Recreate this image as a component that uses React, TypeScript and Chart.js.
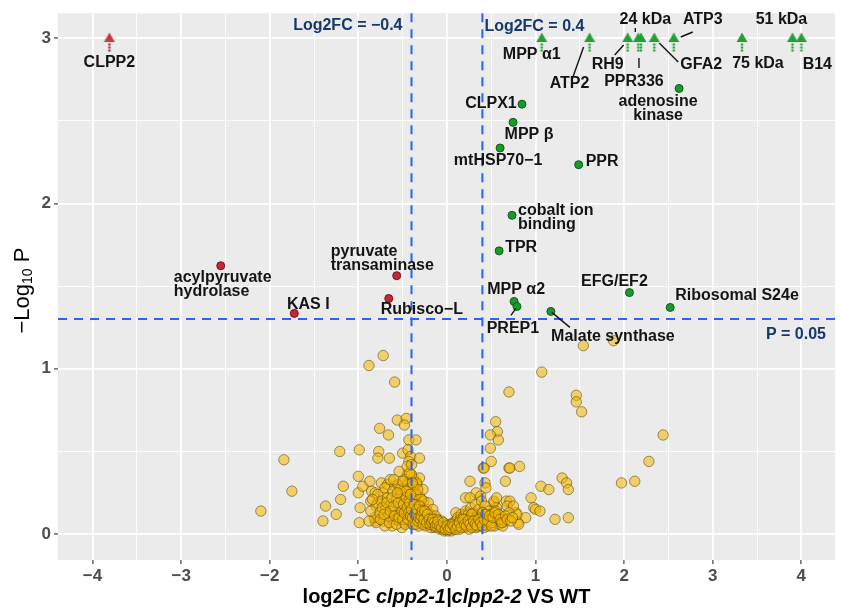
import React, { useEffect, useRef } from 'react';
import { Chart, registerables } from 'chart.js';

Chart.register(...registerables);

// ---------- axes ----------
const X_TICKS = [-4, -3.5, -3, -2.5, -2, -1.5, -1, -0.5, 0, 0.5, 1, 1.5, 2, 2.5, 3, 3.5, 4];
const Y_TICKS = [0, 0.5, 1, 1.5, 2, 2.5, 3];
const X_MIN = -4.39;
const X_MAX = 4.38;
const Y_MIN = -0.156;
const Y_MAX = 3.15;

// ---------- thresholds ----------
const FC_CUTOFFS = [-0.4, 0.4];
const P_CUTOFF = 0.05;

// ---------- significant, up (green circles) ----------
const UP_NAMES = [
  'adenosine\nkinase', 'CLPX1', 'MPP \u03b2', 'mtHSP70\u22121', 'PPR', 'cobalt ion\nbinding',
  'TPR', 'EFG/EF2', 'Ribosomal S24e', 'MPP \u03b12', 'PREP1', 'Malate synthase',
];
const UP_X = [2.62, 0.847, 0.746, 0.60, 1.487, 0.735, 0.589, 2.06, 2.52, 0.758, 0.79, 1.173];
const UP_Y = [2.695, 2.60, 2.49, 2.335, 2.234, 1.928, 1.713, 1.461, 1.371, 1.407, 1.377, 1.347];

// ---------- significant, up, capped at 3 (green arrows) ----------
const UP_CAP_NAMES = ['MPP \u03b11', 'ATP2', 'RH9', '24 kDa', 'PPR336', 'GFA2', 'ATP3', '75 kDa', '51 kDa', 'B14'];
const UP_CAP_X = [1.07, 1.61, 2.04, 2.16, 2.19, 2.34, 2.56, 3.33, 3.90, 4.00];
const UP_CAP_Y = [3, 3, 3, 3, 3, 3, 3, 3, 3, 3];

// ---------- significant, down (red circles) ----------
const DOWN_NAMES = ['acylpyruvate\nhydrolase', 'pyruvate\ntransaminase', 'Rubisco\u2212L', 'KAS I'];
const DOWN_X = [-2.553, -0.567, -0.657, -1.723];
const DOWN_Y = [1.623, 1.563, 1.425, 1.335];

// ---------- significant, down, capped (red arrow) ----------
const DOWN_CAP_NAMES = ['CLPP2'];
const DOWN_CAP_X = [-3.81];
const DOWN_CAP_Y = [3];

// ---------- not significant (yellow) [log2FC, -log10 P] ----------
const NS_POINTS: number[][] = [
  [-0.72, 1.08], [-0.88, 1.02], [-0.59, 0.92], [1.07, 0.98], [0.70, 0.86], [1.54, 1.14], [1.88, 1.17],
  [1.46, 0.84], [1.46, 0.80], [1.52, 0.74], [2.44, 0.60], [2.28, 0.44], [1.97, 0.31], [2.12, 0.32],
  [-0.56, 0.69], [-0.46, 0.70], [-0.48, 0.66], [-0.76, 0.64], [-0.66, 0.60], [-0.43, 0.57], [-0.35, 0.57],
  [0.55, 0.68], [0.57, 0.62], [0.49, 0.60], [0.58, 0.57], [0.49, 0.52], [0.50, 0.44],
  [-0.99, 0.51], [-1.21, 0.50], [-1.84, 0.45], [-0.77, 0.50], [-0.78, 0.46], [-0.65, 0.46], [-0.50, 0.49],
  [-0.44, 0.51], [-0.41, 0.47], [-0.31, 0.46], [-0.43, 0.44],
  [0.41, 0.40], [0.42, 0.40], [0.70, 0.40], [0.71, 0.40], [0.82, 0.41],
  [-1.75, 0.26], [-2.10, 0.14], [-1.40, 0.08], [-1.37, 0.17], [-1.25, 0.12], [-1.20, 0.21], [-1.17, 0.29],
  [-1.00, 0.35], [-1.00, 0.25], [-0.98, 0.16], [-0.99, 0.07], [-0.95, 0.29], [-0.87, 0.32], [-0.85, 0.26],
  [-0.74, 0.31], [-0.67, 0.30], [-0.59, 0.29], [-0.45, 0.36], [-0.38, 0.34], [-0.31, 0.34], [-0.45, 0.31],
  [-0.34, 0.30],
  [0.26, 0.32], [0.43, 0.31], [0.44, 0.28], [0.66, 0.32], [1.06, 0.29], [1.15, 0.27], [1.30, 0.34],
  [1.35, 0.31], [1.37, 0.27], [0.67, 0.20], [0.71, 0.20], [0.95, 0.22], [0.98, 0.16], [1.00, 0.15],
  [1.05, 0.14], [0.89, 0.10], [1.22, 0.09], [1.37, 0.10], [0.78, 0.13], [0.80, 0.07], [0.81, 0.06],
  [0.79, 0.12], [0.68, 0.17], [0.75, 0.17], [0.70, 0.13], [0.63, 0.07], [0.53, 0.19], [0.56, 0.16],
  [0.56, 0.11], [0.33, 0.25], [0.38, 0.23], [0.21, 0.22], [0.26, 0.22], [0.10, 0.13], [0.23, 0.13],
  [0.34, 0.11], [0.53, 0.20], [0.56, 0.22],
  [-0.81, 0.25], [-0.72, 0.25], [-0.86, 0.20], [-0.78, 0.19], [-0.81, 0.08], [-0.80, 0.07],
  // dense cloud
  [-0.82, 0.10], [-0.80, 0.17], [-0.78, 0.24], [-0.76, 0.13], [-0.74, 0.20], [-0.72, 0.08], [-0.70, 0.28],
  [-0.69, 0.15], [-0.67, 0.22], [-0.66, 0.11], [-0.64, 0.33], [-0.63, 0.18], [-0.61, 0.26], [-0.60, 0.09],
  [-0.58, 0.14], [-0.57, 0.21], [-0.55, 0.30], [-0.54, 0.38], [-0.53, 0.12], [-0.52, 0.17], [-0.50, 0.25],
  [-0.49, 0.07], [-0.48, 0.20], [-0.47, 0.33], [-0.46, 0.14], [-0.45, 0.41], [-0.44, 0.23], [-0.43, 0.10],
  [-0.42, 0.28], [-0.41, 0.17], [-0.40, 0.36], [-0.39, 0.06], [-0.38, 0.21], [-0.37, 0.13], [-0.36, 0.26],
  [-0.35, 0.09], [-0.34, 0.31], [-0.33, 0.18], [-0.32, 0.05], [-0.31, 0.23], [-0.30, 0.12], [-0.29, 0.16],
  [-0.28, 0.08], [-0.27, 0.27], [-0.26, 0.20], [-0.25, 0.11], [-0.24, 0.05], [-0.23, 0.15], [-0.22, 0.09],
  [-0.21, 0.19], [-0.20, 0.06], [-0.19, 0.12], [-0.18, 0.04], [-0.17, 0.10], [-0.16, 0.15], [-0.15, 0.07],
  [-0.14, 0.04], [-0.13, 0.11], [-0.12, 0.06], [-0.11, 0.09], [-0.10, 0.04], [-0.09, 0.07], [-0.08, 0.03],
  [-0.07, 0.05], [-0.06, 0.08], [-0.05, 0.03], [-0.04, 0.05], [-0.03, 0.02], [-0.02, 0.04], [-0.01, 0.06],
  [0.00, 0.03], [0.01, 0.02], [0.02, 0.05], [0.03, 0.03], [0.04, 0.06], [0.05, 0.02], [0.06, 0.04],
  [0.07, 0.07], [0.08, 0.03], [0.09, 0.05], [0.10, 0.08], [0.11, 0.04], [0.12, 0.10], [0.13, 0.06],
  [0.14, 0.03], [0.15, 0.09], [0.16, 0.12], [0.17, 0.05], [0.18, 0.07], [0.19, 0.11], [0.20, 0.04],
  [0.21, 0.14], [0.22, 0.08], [0.23, 0.06], [0.24, 0.12], [0.25, 0.03], [0.26, 0.10], [0.27, 0.16],
  [0.28, 0.07], [0.29, 0.05], [0.30, 0.13], [0.31, 0.09], [0.32, 0.18], [0.33, 0.04], [0.34, 0.11],
  [0.35, 0.07], [0.36, 0.15], [0.37, 0.05], [0.38, 0.10], [0.39, 0.20], [0.40, 0.08], [0.41, 0.13],
  [0.42, 0.04], [0.43, 0.17], [0.44, 0.07], [0.45, 0.11], [0.46, 0.05], [0.47, 0.14], [0.48, 0.09],
  [0.49, 0.06], [0.50, 0.12], [0.52, 0.08], [0.54, 0.05], [0.55, 0.14], [0.57, 0.09], [0.59, 0.06],
  [0.61, 0.11], [0.63, 0.05], [0.65, 0.08],
  [-0.88, 0.08], [-0.86, 0.14], [-0.84, 0.21], [-0.62, 0.05], [-0.51, 0.04], [-0.70, 0.05],
  [-0.47, 0.10], [-0.44, 0.15], [-0.41, 0.08], [-0.38, 0.14], [-0.35, 0.17], [-0.33, 0.11], [-0.30, 0.07],
  [-0.27, 0.13], [-0.24, 0.09], [-0.21, 0.07], [-0.18, 0.08], [-0.15, 0.05], [-0.56, 0.09], [-0.52, 0.24],
  [-0.48, 0.27], [-0.43, 0.20], [-0.39, 0.25], [-0.36, 0.20], [-0.32, 0.14], [-0.29, 0.21],
  [0.15, 0.05], [0.20, 0.09], [0.25, 0.07], [0.30, 0.05], [0.35, 0.10], [0.40, 0.13], [0.45, 0.09],
  [0.50, 0.07], [0.28, 0.12], [0.33, 0.08],
  [-0.75, 0.09], [-0.73, 0.16], [-0.71, 0.12], [-0.68, 0.19], [-0.65, 0.07], [-0.64, 0.14], [-0.62, 0.22],
  [-0.60, 0.17], [-0.59, 0.11], [-0.57, 0.06], [-0.55, 0.19], [-0.54, 0.10], [-0.53, 0.27], [-0.51, 0.14],
  [-0.50, 0.09], [-0.49, 0.18], [-0.48, 0.13], [-0.47, 0.06], [-0.46, 0.22], [-0.45, 0.16], [-0.44, 0.09],
  [-0.43, 0.13], [-0.42, 0.19], [-0.41, 0.11], [-0.40, 0.15], [-0.39, 0.10], [-0.38, 0.06], [-0.37, 0.18],
  [-0.36, 0.12], [-0.35, 0.06], [-0.34, 0.15], [-0.33, 0.08], [-0.32, 0.10], [-0.31, 0.17], [-0.30, 0.09],
  [-0.29, 0.11], [-0.28, 0.14], [-0.27, 0.06], [-0.26, 0.09], [-0.25, 0.14], [-0.23, 0.07], [-0.22, 0.12],
  [-0.20, 0.09], [-0.19, 0.06], [-0.17, 0.07], [-0.16, 0.09], [-0.14, 0.07], [-0.13, 0.05], [-0.11, 0.06],
  [-0.10, 0.08], [-0.08, 0.05], [-0.06, 0.04], [-0.04, 0.07], [-0.02, 0.03], [0.00, 0.05], [0.02, 0.03],
  [0.04, 0.04], [0.06, 0.06], [0.08, 0.05], [0.10, 0.03], [0.12, 0.05], [0.14, 0.07], [0.16, 0.04],
  [0.18, 0.09], [0.20, 0.06], [0.22, 0.05], [0.24, 0.08], [0.26, 0.06], [0.28, 0.04], [0.30, 0.08],
  [0.32, 0.06], [0.34, 0.05], [0.36, 0.09], [0.38, 0.07], [0.40, 0.05], [0.42, 0.09], [0.44, 0.12],
  [0.46, 0.08], [0.48, 0.11], [0.50, 0.05], [0.52, 0.10], [0.54, 0.13], [0.58, 0.12], [0.60, 0.09],
  [0.62, 0.07], [0.66, 0.11], [0.68, 0.09], [0.72, 0.08], [0.74, 0.10],
  [-0.44, 0.30], [-0.42, 0.37], [-0.40, 0.42], [-0.38, 0.29], [-0.46, 0.26], [-0.50, 0.32], [-0.56, 0.25],
  [-0.60, 0.33], [-0.35, 0.24], [-0.33, 0.27], [-0.41, 0.24], [-0.39, 0.31],
];

// ---------- label placement (pixel offsets from the point; style only) ----------
type LabelLayout = { dx: number; dy: number; align: CanvasTextAlign; line?: number[] };
const LABEL_LAYOUT: Record<string, LabelLayout> = {
  'CLPP2': { dx: 0, dy: 25, align: 'center' },
  'MPP \u03b11': { dx: -10, dy: 17, align: 'center' },
  'ATP2': { dx: -20, dy: 46, align: 'center', line: [-17, 40, -6, 9] },
  'RH9': { dx: -20, dy: 27, align: 'center', line: [-13, 17, -4, 7] },
  '24 kDa': { dx: 7, dy: -18, align: 'center', line: [-3, -10, -3, -6] },
  'PPR336': { dx: -7, dy: 44, align: 'center', line: [-2, 20, -2, 30] },
  'GFA2': { dx: 47, dy: 27, align: 'center', line: [5, 5, 24, 24] },
  'ATP3': { dx: 29, dy: -18, align: 'center', line: [7, -1, 19, -6] },
  '75 kDa': { dx: 16, dy: 26, align: 'center' },
  '51 kDa': { dx: -11, dy: -18, align: 'center' },
  'B14': { dx: 16, dy: 27, align: 'center' },
  'adenosine\nkinase': { dx: -21, dy: 13, align: 'center' },
  'CLPX1': { dx: -31, dy: -1, align: 'center' },
  'MPP \u03b2': { dx: 16, dy: 12, align: 'center' },
  'mtHSP70\u22121': { dx: -2, dy: 13, align: 'center' },
  'PPR': { dx: 7, dy: -3, align: 'left' },
  'cobalt ion\nbinding': { dx: 6, dy: -5, align: 'left' },
  'TPR': { dx: 6, dy: -3, align: 'left' },
  'EFG/EF2': { dx: -15, dy: -11, align: 'center' },
  'Ribosomal S24e': { dx: 5, dy: -12, align: 'left' },
  'MPP \u03b12': { dx: 2, dy: -12, align: 'center' },
  'PREP1': { dx: -4, dy: 22, align: 'center', line: [-6, 9, -1, 2] },
  'Malate synthase': { dx: 62, dy: 25, align: 'center', line: [1, 1, 19, 16] },
  'acylpyruvate\nhydrolase': { dx: -47, dy: 12, align: 'left' },
  'pyruvate\ntransaminase': { dx: -66, dy: -24, align: 'left' },
  'Rubisco\u2212L': { dx: -8, dy: 11, align: 'left' },
  'KAS I': { dx: 14, dy: -9, align: 'center' },
};

const FONT = '"Liberation Sans", Arial, Helvetica, sans-serif';
const isMajor = (v: number) => Math.abs(v - Math.round(v)) < 1e-9;
const fmt = (v: number) => (v < 0 ? '\u2212' + Math.abs(v) : String(v));

function toPoints(xs: number[], ys: number[]) {
  return xs.map((x, i) => ({ x, y: ys[i] }));
}

function makeArrow(fill: string, stem: string) {
  const c = document.createElement('canvas');
  c.width = 12;
  c.height = 28;
  const g = c.getContext('2d')!;
  g.fillStyle = fill;
  g.beginPath();
  g.moveTo(6, 8.5);
  g.lineTo(11.5, 18);
  g.lineTo(0.5, 18);
  g.closePath();
  g.fill();
  g.fillStyle = stem;
  for (const y of [19.5, 22.5, 25.5]) g.fillRect(4.8, y, 2.4, 2);
  return c;
}

const panelBg = {
  id: 'panelBg',
  beforeDraw(chart: any) {
    const { ctx, chartArea: a } = chart;
    ctx.save();
    ctx.fillStyle = '#EBEBEB';
    ctx.fillRect(a.left, a.top, a.right - a.left, a.bottom - a.top);
    ctx.restore();
  },
};

const thresholds = {
  id: 'thresholds',
  afterDatasetsDraw(chart: any) {
    const { ctx, chartArea: a, scales } = chart;
    const xs = scales.x;
    const ys = scales.y;
    ctx.save();
    ctx.strokeStyle = '#2962FF';
    ctx.lineWidth = 2;
    ctx.setLineDash([9, 7]);
    for (const fc of FC_CUTOFFS) {
      const px = xs.getPixelForValue(fc);
      ctx.beginPath();
      ctx.moveTo(px, a.top);
      ctx.lineTo(px, a.bottom);
      ctx.stroke();
    }
    const py = ys.getPixelForValue(-Math.log10(P_CUTOFF));
    ctx.beginPath();
    ctx.moveTo(a.left, py);
    ctx.lineTo(a.right, py);
    ctx.stroke();
    ctx.setLineDash([]);
    ctx.fillStyle = '#15386B';
    ctx.font = `bold 16px ${FONT}`;
    ctx.textBaseline = 'middle';
    const lx = xs.getPixelForValue(FC_CUTOFFS[0]);
    const rx = xs.getPixelForValue(FC_CUTOFFS[1]);
    ctx.textAlign = 'right';
    ctx.fillText('Log2FC = ' + fmt(FC_CUTOFFS[0]), lx - 9, a.top + 12);
    ctx.textAlign = 'left';
    ctx.fillText('Log2FC = ' + fmt(FC_CUTOFFS[1]), rx + 2, a.top + 13);
    ctx.textAlign = 'right';
    ctx.fillText('P = ' + P_CUTOFF, a.right - 9, py + 16);
    ctx.restore();
  },
};

const pointLabels = {
  id: 'pointLabels',
  afterDatasetsDraw(chart: any) {
    const { ctx, scales } = chart;
    const items: { name: string; x: number; y: number }[] = [];
    const add = (names: string[], xs: number[], ys: number[]) =>
      names.forEach((n, i) => items.push({ name: n, x: xs[i], y: ys[i] }));
    add(UP_NAMES, UP_X, UP_Y);
    add(UP_CAP_NAMES, UP_CAP_X, UP_CAP_Y);
    add(DOWN_NAMES, DOWN_X, DOWN_Y);
    add(DOWN_CAP_NAMES, DOWN_CAP_X, DOWN_CAP_Y);
    ctx.save();
    ctx.font = `bold 16px ${FONT}`;
    ctx.fillStyle = '#141414';
    ctx.strokeStyle = '#141414';
    ctx.lineWidth = 1.4;
    ctx.textBaseline = 'middle';
    for (const p of items) {
      const L = LABEL_LAYOUT[p.name];
      if (!L) continue;
      const px = scales.x.getPixelForValue(p.x);
      const py = scales.y.getPixelForValue(p.y);
      if (L.line) {
        ctx.beginPath();
        ctx.moveTo(px + L.line[0], py + L.line[1]);
        ctx.lineTo(px + L.line[2], py + L.line[3]);
        ctx.stroke();
      }
      ctx.textAlign = L.align;
      p.name.split('\n').forEach((t, i) => ctx.fillText(t, px + L.dx, py + L.dy + i * 14));
    }
    ctx.restore();
  },
};

const axisTitles = {
  id: 'axisTitles',
  afterDraw(chart: any) {
    const { ctx, chartArea: a } = chart;
    ctx.save();
    ctx.fillStyle = '#000';
    ctx.textBaseline = 'middle';
    ctx.textAlign = 'left';
    // x title with italic genotype names
    const parts: [string, string][] = [
      ['log2FC ', `bold 20px ${FONT}`],
      ['clpp2-1|clpp2-2', `italic bold 20px ${FONT}`],
      [' VS WT', `bold 20px ${FONT}`],
    ];
    let total = 0;
    for (const [t, f] of parts) {
      ctx.font = f;
      total += ctx.measureText(t).width;
    }
    let cx = (a.left + a.right) / 2 - total / 2;
    for (const [t, f] of parts) {
      ctx.font = f;
      ctx.fillText(t, cx, 597);
      cx += ctx.measureText(t).width;
    }
    // y title, rotated, with subscript
    ctx.translate(23, (a.top + a.bottom) / 2 + 4);
    ctx.rotate(-Math.PI / 2);
    const yparts: [string, string, number][] = [
      ['\u2212Log', `22px ${FONT}`, 0],
      ['10', `14px ${FONT}`, 5],
      [' P', `22px ${FONT}`, 0],
    ];
    let yt = 0;
    for (const [t, f] of yparts) {
      ctx.font = f;
      yt += ctx.measureText(t).width;
    }
    let yx = -yt / 2;
    for (const [t, f, off] of yparts) {
      ctx.font = f;
      ctx.fillText(t, yx, off);
      yx += ctx.measureText(t).width;
    }
    ctx.restore();
  },
};

export default function App() {
  const ref = useRef<HTMLCanvasElement | null>(null);

  useEffect(() => {
    if (!ref.current) return;
    Chart.defaults.font.family = FONT;
    const greenArrow = makeArrow('#23A033', '#23A033');
    const redArrow = makeArrow('#C8383C', '#9E2B2E');

    const gridOpts = {
      color: '#FFFFFF',
      lineWidth: (c: any) => (c.tick && isMajor(c.tick.value) ? 1.8 : 0.9),
      tickColor: (c: any) => (c.tick && isMajor(c.tick.value) ? '#333333' : 'rgba(0,0,0,0)'),
      tickLength: 4,
      tickWidth: 1.1,
      drawTicks: true,
    };

    const chart = new Chart(ref.current, {
      type: 'scatter',
      data: {
        datasets: [
          {
            data: NS_POINTS.map(([x, y]) => ({ x, y })),
            backgroundColor: 'rgba(244, 182, 0, 0.55)',
            borderColor: 'rgba(100, 78, 10, 0.6)',
            borderWidth: 1,
            pointRadius: 5.2,
          },
          {
            data: toPoints(UP_X, UP_Y),
            backgroundColor: '#1A9A2C',
            borderColor: '#0E5A18',
            borderWidth: 1,
            pointRadius: 4,
          },
          {
            data: toPoints(DOWN_X, DOWN_Y),
            backgroundColor: '#C22A30',
            borderColor: '#701417',
            borderWidth: 1,
            pointRadius: 4,
          },
          {
            data: toPoints(UP_CAP_X, UP_CAP_Y),
            pointStyle: greenArrow as any,
            pointRadius: 6,
          },
          {
            data: toPoints(DOWN_CAP_X, DOWN_CAP_Y),
            pointStyle: redArrow as any,
            pointRadius: 6,
          },
        ],
      },
      options: {
        animation: false,
        responsive: false,
        devicePixelRatio: 1,
        events: [],
        layout: { padding: { top: 8, right: 2, left: 0, bottom: 0 } },
        plugins: { legend: { display: false }, tooltip: { enabled: false } },
        scales: {
          x: {
            type: 'linear',
            min: X_MIN,
            max: X_MAX,
            afterBuildTicks: (s: any) => {
              s.ticks = X_TICKS.map((v) => ({ value: v }));
            },
            afterFit: (s: any) => {
              s.height = 49;
            },
            ticks: {
              autoSkip: false,
              maxRotation: 0,
              padding: 2,
              color: '#4D4D4D',
              font: { size: 17, weight: 'bold', family: FONT },
              callback: (v: any) => (isMajor(Number(v)) ? fmt(Number(v)) : ''),
            },
            grid: gridOpts as any,
            border: { display: false },
          },
          y: {
            type: 'linear',
            min: Y_MIN,
            max: Y_MAX,
            afterBuildTicks: (s: any) => {
              s.ticks = Y_TICKS.map((v) => ({ value: v }));
            },
            afterFit: (s: any) => {
              s.width = 58;
            },
            ticks: {
              autoSkip: false,
              padding: 3,
              color: '#4D4D4D',
              font: { size: 17, weight: 'bold', family: FONT },
              callback: (v: any) => (isMajor(Number(v)) ? fmt(Number(v)) : ''),
            },
            grid: gridOpts as any,
            border: { display: false },
          },
        },
      },
      plugins: [panelBg, thresholds, pointLabels, axisTitles],
    });
    return () => chart.destroy();
  }, []);

  return (
    <div style={{ position: 'fixed', left: 0, top: 0, width: 842, height: 609, background: '#fff' }}>
      <canvas ref={ref} width={842} height={609} style={{ width: 842, height: 609, display: 'block' }} />
    </div>
  );
}
